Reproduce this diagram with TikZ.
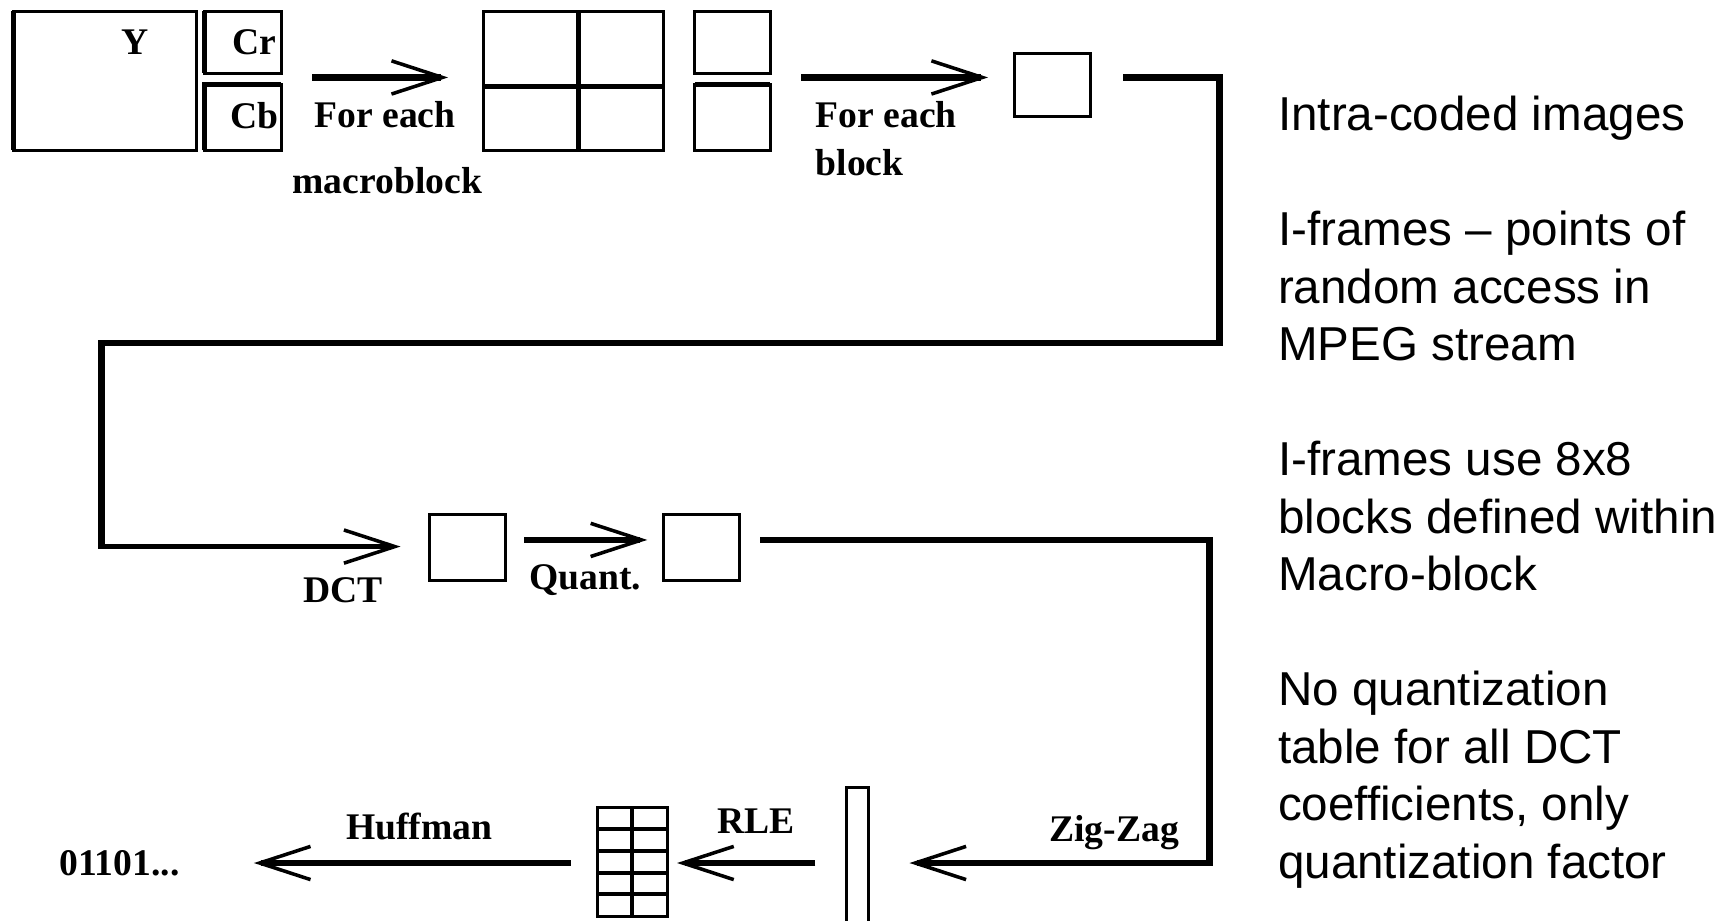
\documentclass[tikz,border=0pt]{standalone}
\usepackage{fontspec}
\setmainfont{Liberation Serif}
\newfontfamily\sansf{Liberation Sans}
\usetikzlibrary{arrows.meta,calc}
\begin{document}
\begin{tikzpicture}[x=1pt,y=-1pt,
  box/.style={draw,line width=2.7pt,inner sep=0pt,outer sep=0pt},
  heavy/.style={line width=4.5pt},
  lab/.style={inner sep=0pt,font=\bfseries\fontsize{34}{40}\selectfont},
  note/.style={inner sep=0pt,anchor=base west,font=\sansf\fontsize{43}{52}\selectfont},
  tipbarb/.style={-{Straight Barb[length=46pt,width=30pt,line width=3.2pt]}},
  conn/.style={line width=6pt,line join=miter},
  arrsix/.style={conn,tipbarb},
  arrfour/.style={line width=4.6pt,tipbarb}]
\useasboundingbox (0,0) rectangle (1560,832);
\clip (0,0) rectangle (1560,832);
% top row
\node[box,minimum width=166pt,minimum height=126pt] (ybox) at (95,73) {};
\draw[heavy] (ybox.north west) -- (ybox.south west);
\node[lab,anchor=base] (ylab) at (122,49) {Y};
\node[box,minimum width=69pt,minimum height=56pt] (cr) at (219.5,38) {};
\draw[heavy] (cr.north west) -- (cr.south west);
\node[box,minimum width=69pt,minimum height=60pt] (cb) at (219.5,106) {};
\draw[heavy] (cb.south west) -- (cb.north west) -- (cb.north east);
\node[lab,anchor=base] (crlab) at (230,49) {Cr};
\node[lab,anchor=base] (cblab) at (230,116) {Cb};
\node[box,minimum width=163pt,minimum height=126pt] (grid) at (518.5,73) {};
\draw[heavy] (grid.north) ++(4.5,0) coordinate (gn) -- (gn |- grid.south);
\draw[heavy] (grid.west) ++(0,5) coordinate (gw) -- (gw -| grid.east);
\node[box,minimum width=68pt,minimum height=56pt] (sqa) at (662,38) {};
\node[box,minimum width=68pt,minimum height=60pt] (sqb) at (662,106) {};
\draw[heavy] (sqb.north west) -- (sqb.north east);
\node[box,minimum width=69pt,minimum height=57pt] (blk) at (951.5,76.5) {};
\draw[arrsix] ($(cr.south east)+(28,4)$) -- ($(grid.west)+(-32,-3)$);
\node[lab,anchor=base] (fe1) at (348,115) {For each};
\node[lab,anchor=base] (mb) at (350,175) {macroblock};
\draw[arrsix] ($(sqa.south east)+(28,4)$) -- ($(blk.west)+(-24,-6.5)$);
\node[lab,anchor=base west] (fe2) at (737,115) {For each};
\node[lab,anchor=base west] (bl) at (737,159) {block};
% middle row
\node[box,minimum width=69pt,minimum height=60pt] (dct) at (422.5,495) {};
\node[box,minimum width=68pt,minimum height=60pt] (qnt) at (634,495) {};
\coordinate (r1) at (1102,310);
\coordinate (l1) at (92,310);
\coordinate (l2) at (92,494);
\draw[conn] ($(blk.east)+(29,-6.5)$) -| (r1) -- (l1) -- ([yshift=-2.3pt]l2);
\draw[arrfour] ([xshift=-2.3pt]l2) -- ($(dct.west)+(-26,-1)$);
\node[lab,anchor=base] (dctlab) at (310,545) {DCT};
\draw[arrsix] ($(dct.east)+(17,-7)$) -- ($(qnt.west)+(-15,-7)$);
\node[lab,anchor=base] (qlab) at (529,533) {Quant.};
% bottom row
\node[box,minimum width=20pt,minimum height=140pt] (col) at (775,782) {};
\node[box,minimum width=63pt,minimum height=98pt] (tbl) at (571.5,779) {};
\draw[line width=3.5pt] (tbl.north) ++(-0.5,0) coordinate (tn) -- (tn |- tbl.south);
\foreach \k in {1,2,3,4} {
  \draw[line width=3.5pt] ($(tbl.north west)+(0,19.6*\k)$) -- ($(tbl.north east)+(0,19.6*\k)$);
}
\coordinate (r2) at (1093,780);
\draw[arrsix] ($(qnt.east)+(19,-7)$) -| (r2) -- ($(col.east)+(37,-2)$);
\node[lab,anchor=base] (zz) at (1007,761) {Zig-Zag};
\draw[arrfour] ($(col.west)+(-28,-2)$) -- ($(tbl.east)+(9,1)$);
\node[lab,anchor=base] (rle) at (683,753) {RLE};
\node[lab,anchor=center] (bits) at (108,780) {01101...};
\draw[arrfour] ($(tbl.west)+(-24,1)$) -- ($(bits.east)+(67,0)$);
\node[lab,anchor=base] (huff) at (379,759) {Huffman};
% notes
\node[note] (n1) at (1155,118) {Intra-coded images};
\node[note] (n2) at (1155,222) {I-frames – points of};
\node[note] (n3) at (1155,274) {random access in};
\node[note] (n4) at (1155,326) {MPEG stream};
\node[note] (n5) at (1155,430) {I-frames use 8x8};
\node[note] (n6) at (1155,482) {blocks defined within};
\node[note] (n7) at (1155,534) {Macro-block};
\node[note] (n8) at (1155,638) {No quantization};
\node[note] (n9) at (1155,690) {table for all DCT};
\node[note] (n10) at (1155,742) {coefficients, only};
\node[note] (n11) at (1155,794) {quantization factor};
\end{tikzpicture}
\end{document}
